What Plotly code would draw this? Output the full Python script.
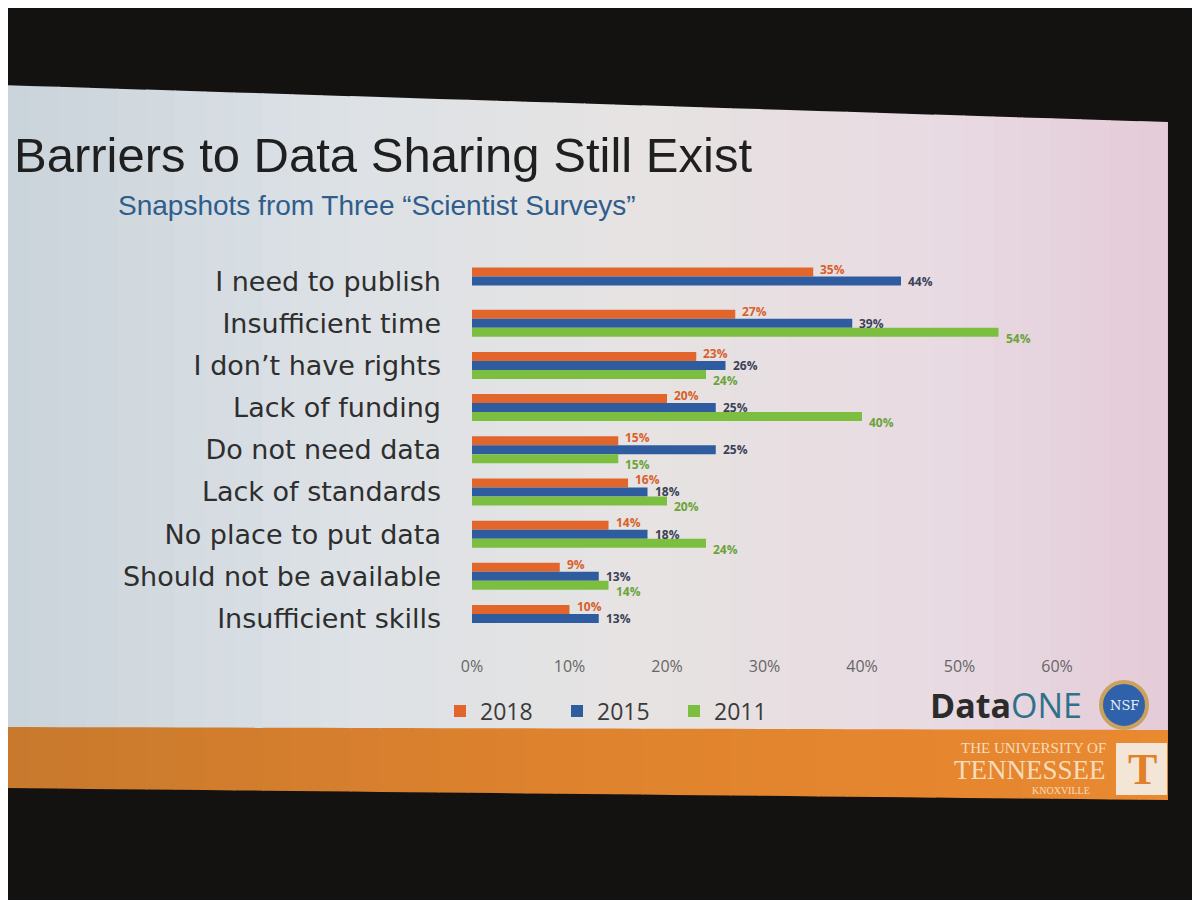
import plotly.graph_objects as go

# survey answers, top to bottom as on the slide
categories = [
    "I need to publish",
    "Insufficient time",
    "I don\u2019t have rights",
    "Lack of funding",
    "Do not need data",
    "Lack of standards",
    "No place to put data",
    "Should not be available",
    "Insufficient skills",
]
pct_2018 = [35, 27, 23, 20, 15, 16, 14, 9, 10]
pct_2015 = [44, 39, 26, 25, 25, 18, 18, 13, 13]
pct_2011 = [None, 54, 24, 40, 15, 20, 24, 14, None]  # not asked in 2011 for first/last

x_ticks = [0, 10, 20, 30, 40, 50, 60]
x_ticktext = [f"{v}%" for v in x_ticks]

# the page has an 8px body margin, so work in screen pixels and shift
OFF = 8
FW, FH = 1200 - OFF, 900 - OFF
PL, PR, PT, PB = 472, 1057, 260, 641  # plot area on screen
L, T = PL - OFF, PT - OFF
R, B = FW - (PR - OFF), FH - (PB - OFF)
W, H = PR - PL, PB - PT


def px(x, y):
    # screen pixel -> paper coords
    return (x - PL) / W, 1 - (y - PT) / H


def path(points):
    pts = [px(x, y) for x, y in points]
    return "M " + " L ".join(f"{a:.4f},{b:.4f}" for a, b in pts) + " Z"


def blend(stops, x):
    # colour along the projector's left-to-right tint
    for (xa, ca), (xb, cb) in zip(stops, stops[1:]):
        if xa <= x <= xb:
            t = (x - xa) / (xb - xa)
            return "rgb(%d,%d,%d)" % tuple(round(a + (b - a) * t) for a, b in zip(ca, cb))
    return "rgb(%d,%d,%d)" % stops[-1][1]


# name, values, bar colour, label colour, label y shift
series = [
    ("2018", pct_2018, "#E2662B", "#D8602A", 12),
    ("2015", pct_2015, "#2E5C9E", "#3a4257", 0),
    ("2011", pct_2011, "#7CBF40", "#6aa33a", -15),
]

fig = go.Figure()
annotations = []
for name, vals, col, txtcol, shift in series:
    fig.add_trace(go.Bar(
        y=categories, x=vals, name=name, orientation="h",
        marker=dict(color=col, line=dict(width=0)),
        hovertemplate="%{y}: %{x}%<extra>" + name + "</extra>",
    ))
    for cat, v in zip(categories, vals):
        if v is None:
            continue
        annotations.append(dict(
            x=v, y=cat, xref="x", yref="y", text=f"{v}%",
            xanchor="left", yanchor="middle", xshift=5, yshift=shift,
            showarrow=False,
            font=dict(family="Open Sans", size=12, color=txtcol, weight="bold"),
        ))

# projected slide, drawn as thin strips so the tint can shift across it
SX = 1168
slide_tint = [(0, (201, 211, 218)), (350, (221, 226, 230)), (650, (231, 227, 226)),
              (950, (232, 218, 226)), (SX, (228, 203, 216))]
band_tint = [(0, (200, 121, 45)), (600, (224, 131, 46)), (SX, (233, 137, 48))]


def top_y(x):
    return 85 + x * 37 / SX


def band_top(x):
    return 727 + x * 3 / SX


def band_bot(x):
    return 788 + x * 12 / SX


shapes = []
N = 40
for i in range(N):
    xa, xb = i * SX / N, min((i + 1) * SX / N + 1, SX)
    xm = (xa + xb) / 2
    shapes.append(dict(type="path", xref="paper", yref="paper", layer="below",
                       path=path([(xa, top_y(xa)), (xb, top_y(xb)),
                                  (xb, band_top(xb) + 1), (xa, band_top(xa) + 1)]),
                       fillcolor=blend(slide_tint, xm), line=dict(width=0)))
    shapes.append(dict(type="path", xref="paper", yref="paper", layer="below",
                       path=path([(xa, band_top(xa)), (xb, band_top(xb)),
                                  (xb, band_bot(xb)), (xa, band_bot(xa))]),
                       fillcolor=blend(band_tint, xm), line=dict(width=0)))

shapes += [
    # T box
    dict(type="rect", xref="paper", yref="paper", layer="below",
         x0=px(1116, 0)[0], x1=px(1167, 0)[0], y0=px(0, 795)[1], y1=px(0, 743)[1],
         fillcolor="#f3e6d6", line=dict(width=0)),
    # NSF seal
    dict(type="circle", xref="paper", yref="paper",
         x0=px(1101, 0)[0], x1=px(1147, 0)[0], y0=px(0, 728)[1], y1=px(0, 682)[1],
         fillcolor="#2f62ab", line=dict(color="#caa25e", width=4)),
]


def note(text, x, y, size, color, family="Liberation Sans", anchor="left"):
    return dict(text=text, x=px(x, 0)[0], y=px(0, y)[1], xref="paper", yref="paper",
                xanchor=anchor, yanchor="middle", showarrow=False,
                font=dict(family=family, size=size, color=color))


annotations += [
    note("Barriers to Data Sharing Still Exist", 12, 155, 49, "#1f1f1f"),
    note("Snapshots from Three \u201cScientist Surveys\u201d", 116, 205, 28, "#2f5d8c"),
    note("<b>Data</b><span style='color:#2f7189'>ONE</span>", 1084, 705, 34, "#2b2b2b",
         family="Open Sans", anchor="right"),
    note("NSF", 1124, 705, 13, "#e8eefa", family="DejaVu Serif", anchor="center"),
    note("THE UNIVERSITY OF", 1108, 748, 15, "#f7dcbc", family="Liberation Serif", anchor="right"),
    note("TENNESSEE", 1108, 770, 27, "#f7dcbc", family="Liberation Serif", anchor="right"),
    note("KNOXVILLE", 1092, 790, 10, "#f7dcbc", family="Liberation Serif", anchor="right"),
    note("<b>T</b>", 1142, 769, 44, "#E2802A", family="Liberation Serif", anchor="center"),
]

fig.update_layout(
    width=FW, height=FH,
    margin=dict(l=L, r=R, t=T, b=B, autoexpand=False),
    paper_bgcolor="#141111", plot_bgcolor="rgba(0,0,0,0)",
    barmode="group", bargap=0.36, bargroupgap=0,
    shapes=shapes, annotations=annotations,
    showlegend=True,
    legend=dict(orientation="h", x=px(440, 0)[0], y=px(0, 711)[1],
                xanchor="left", yanchor="middle",
                entrywidth=72, entrywidthmode="pixels",
                font=dict(family="Open Sans", size=23, color="#3a3a3a"),
                bgcolor="rgba(0,0,0,0)"),
    xaxis=dict(range=[0, 60], tickvals=x_ticks, ticktext=x_ticktext,
               showgrid=False, zeroline=False, showline=False, automargin=False,
               ticklabelstandoff=14,
               tickfont=dict(family="Open Sans", size=16, color="#666666")),
    yaxis=dict(autorange="reversed", showgrid=False, showline=False, automargin=False,
               ticklabelstandoff=30,
               tickfont=dict(family="DejaVu Sans", size=27, color="#2e2e2e")),
)

fig.write_html("out.html")
